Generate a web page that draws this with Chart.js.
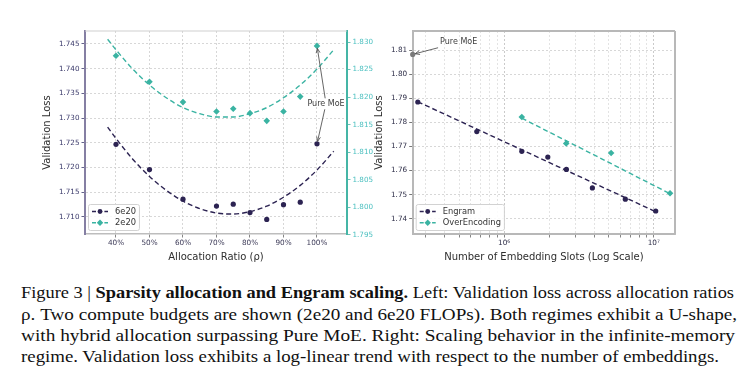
<!DOCTYPE html>
<html><head><meta charset="utf-8">
<script src="https://cdn.jsdelivr.net/npm/chart.js@4/dist/chart.umd.min.js"></script>
<style>
html,body{margin:0;padding:0;background:#fff;width:755px;height:379px;overflow:hidden;position:relative;}
canvas{position:absolute;top:0;}
#c1{left:0}
#c2{left:368px}
.cap{position:absolute;left:21px;white-space:nowrap;font-family:"Liberation Serif","DejaVu Serif",serif;font-size:17px;line-height:17px;color:#111;transform-origin:0 0;}
</style></head><body>
<canvas id="c1" width="376" height="275"></canvas>
<canvas id="c2" width="387" height="275"></canvas>
<div class="cap">Figure 3 | <b>Sparsity allocation and Engram scaling.</b> Left: Validation loss across allocation ratios</div>
<div class="cap">ρ. Two compute budgets are shown (2e20 and 6e20 FLOPs). Both regimes exhibit a U-shape,</div>
<div class="cap">with hybrid allocation surpassing Pure MoE. Right: Scaling behavior in the infinite-memory</div>
<div class="cap">regime. Validation loss exhibits a log-linear trend with respect to the number of embeddings.</div>
<script>
// ---------- data: left panel ----------
const ratioTicks = [40, 50, 60, 70, 80, 90, 100];
const ratios = [40, 50, 60, 70, 75, 80, 85, 90, 95, 100];
const loss6e20 = [1.7247, 1.7196, 1.7136, 1.7122, 1.7126, 1.7109, 1.7095, 1.7125, 1.7130, 1.7248];
const loss2e20 = [1.8275, 1.8228, 1.8191, 1.8174, 1.8179, 1.8171, 1.8157, 1.8174, 1.8201, 1.8293];
const fitRatios = [37.5, 40, 45, 50, 55, 60, 65, 70, 75, 80, 85, 90, 95, 100, 105];
const fit6e20 = [1.7282, 1.7259, 1.7217, 1.7182, 1.7154, 1.7132, 1.7117, 1.7108, 1.7106, 1.7111, 1.7122, 1.7140, 1.7164, 1.7195, 1.7233];
const fit2e20 = [1.8305, 1.8286, 1.8251, 1.8222, 1.8199, 1.8181, 1.8170, 1.8164, 1.8164, 1.8170, 1.8181, 1.8199, 1.8222, 1.8251, 1.8286];
const lossTicksLeft = [1.710, 1.715, 1.720, 1.725, 1.730, 1.735, 1.740, 1.745];
const lossTicksRight = [1.795, 1.800, 1.805, 1.810, 1.815, 1.820, 1.825, 1.830];

// ---------- data: right panel ----------
const engramSlots = [2.65e5, 6.57e5, 1.313e6, 1.959e6, 2.608e6, 3.89e6, 6.46e6, 1.031e7];
const engramLoss = [1.7885, 1.7762, 1.7680, 1.7656, 1.7605, 1.7528, 1.7481, 1.7432];
const overSlots = [1.313e6, 2.6e6, 5.19e6, 1.285e7];
const overLoss = [1.7823, 1.7713, 1.7673, 1.7506];
const engramFitSlots = [2.65e5, 1.031e7];
const engramFitLoss = [1.7886, 1.7429];
const overFitSlots = [1.313e6, 1.285e7];
const overFitLoss = [1.7818, 1.7504];
const pureMoESlots = [2.45e5];
const pureMoELoss = [1.8083];
const slotTicks = [3e5, 4e5, 5e5, 6e5, 7e5, 8e5, 9e5, 1e6, 2e6, 3e6, 4e6, 5e6, 6e6, 7e6, 8e6, 9e6, 1e7];
const slotMajor = [1e6, 1e7];
const slotLabels = {1000000: '10⁶', 10000000: '10⁷'};
const lossTicksR = [1.74, 1.75, 1.76, 1.77, 1.78, 1.79, 1.80, 1.81];

// ---------- styles ----------
const DARK = '#2c2352';
const TEAL = '#3ab3a2';
Chart.defaults.font.family = '"DejaVu Sans", sans-serif';
Chart.defaults.animation = false;

const pts = (xs, ys) => xs.map((x, i) => ({x, y: ys[i]}));

function drawMarker(ctx, style, x, y, r, color) {
  ctx.fillStyle = color; ctx.strokeStyle = color; ctx.lineWidth = 1;
  ctx.beginPath();
  if (style === 'rectRot') {
    ctx.moveTo(x - r, y); ctx.lineTo(x, y - r); ctx.lineTo(x + r, y); ctx.lineTo(x, y + r); ctx.closePath();
  } else {
    ctx.arc(x, y, r, 0, Math.PI * 2);
  }
  ctx.fill();
}

const legendPlugin = {
  id: 'mplLegend',
  afterDatasetsDraw(chart, args, opts) {
    if (!opts.entries) return;
    const {ctx, chartArea: a} = chart;
    ctx.save();
    ctx.font = '8.3px "DejaVu Sans"';
    const tw = Math.max(...opts.entries.map(e => ctx.measureText(e.label).width));
    const w = 27 + tw + 3, h = 26;
    const x0 = a.left + 3, y0 = a.bottom - 4 - h;
    ctx.fillStyle = 'rgba(255,255,255,0.85)';
    ctx.strokeStyle = '#d2d2d2'; ctx.lineWidth = 1;
    ctx.beginPath();
    ctx.roundRect(x0 + 0.5, y0 + 0.5, w, h, 2);
    ctx.fill(); ctx.stroke();
    opts.entries.forEach((e, i) => {
      const cy = y0 + 7.5 + i * 11.3;
      ctx.strokeStyle = e.color; ctx.lineWidth = 1.4; ctx.setLineDash([4, 2.2]);
      ctx.beginPath(); ctx.moveTo(x0 + 4, cy); ctx.lineTo(x0 + 20, cy); ctx.stroke();
      ctx.setLineDash([]);
      drawMarker(ctx, e.pointStyle, x0 + 12, cy, e.pointStyle === 'rectRot' ? 3.2 : 2.4, e.color);
      ctx.fillStyle = '#333'; ctx.textAlign = 'left'; ctx.textBaseline = 'middle';
      ctx.fillText(e.label, x0 + 27, cy + 0.5);
    });
    ctx.restore();
  }
};

const annotPlugin = {
  id: 'mplAnnot',
  afterDatasetsDraw(chart, args, opts) {
    if (!opts.items) return;
    const {ctx} = chart; const xs = chart.scales.x;
    ctx.save();
    opts.items.forEach(it => {
      const cx = xs.getPixelForValue(it.x), cy = chart.scales[it.yAxis].getPixelForValue(it.y);
      ctx.font = '8px "DejaVu Sans"'; ctx.fillStyle = '#3d3d3d';
      ctx.textAlign = 'center'; ctx.textBaseline = 'middle';
      ctx.fillText(it.text, cx, cy);
      const hw = ctx.measureText(it.text).width / 2 + 2, hh = 5.5;
      it.targets.forEach(t => {
        const tx = xs.getPixelForValue(t.x), ty = chart.scales[t.yAxis].getPixelForValue(t.y);
        const dx = tx - cx, dy = ty - cy;
        const s = Math.min(dx ? hw / Math.abs(dx) : Infinity, dy ? hh / Math.abs(dy) : Infinity);
        const sx = cx + dx * s, sy = cy + dy * s;
        const L = Math.hypot(tx - sx, ty - sy); const ux = (tx - sx) / L, uy = (ty - sy) / L;
        const ex = tx - ux * 2.5, ey = ty - uy * 2.5;
        ctx.strokeStyle = '#555'; ctx.lineWidth = 0.9;
        ctx.beginPath(); ctx.moveTo(sx, sy); ctx.lineTo(ex, ey); ctx.stroke();
        const ang = Math.atan2(uy, ux);
        ctx.beginPath();
        ctx.moveTo(ex - 5 * Math.cos(ang - 0.4), ey - 5 * Math.sin(ang - 0.4));
        ctx.lineTo(ex, ey);
        ctx.lineTo(ex - 5 * Math.cos(ang + 0.4), ey - 5 * Math.sin(ang + 0.4));
        ctx.stroke();
      });
    });
    ctx.restore();
  }
};

const framePlugin = {
  id: 'frame',
  afterDatasetsDraw(chart, args, opts) {
    const {ctx, chartArea: a} = chart;
    ctx.save();
    ctx.strokeStyle = opts.color || '#c8c8c8';
    ctx.lineWidth = opts.width || 1;
    ctx.beginPath(); ctx.moveTo(a.left, a.top); ctx.lineTo(a.right, a.top); ctx.stroke();
    if (opts.right) {
      ctx.beginPath(); ctx.moveTo(a.right, a.top); ctx.lineTo(a.right, a.bottom); ctx.stroke();
    }
    ctx.restore();
  }
};

const gridDot = {color: '#cdcdcd', lineWidth: 0.8, tickLength: 3.5, tickWidth: 0.8, tickBorderDash: []};

// ---------- left chart ----------
new Chart(document.getElementById('c1'), {
  type: 'scatter',
  data: {datasets: [
    {label: '6e20', data: pts(ratios, loss6e20), yAxisID: 'y', pointStyle: 'circle', pointRadius: 2.6,
     backgroundColor: DARK, borderColor: DARK, borderWidth: 0, showLine: false},
    {label: '2e20', data: pts(ratios, loss2e20), yAxisID: 'y2', pointStyle: 'rectRot', pointRadius: 3.3,
     backgroundColor: TEAL, borderColor: TEAL, borderWidth: 0, showLine: false},
    {label: 'fit6', data: pts(fitRatios, fit6e20), yAxisID: 'y', showLine: true, pointRadius: 0,
     borderColor: DARK, borderWidth: 1.4, borderDash: [5, 3], cubicInterpolationMode: 'monotone'},
    {label: 'fit2', data: pts(fitRatios, fit2e20), yAxisID: 'y2', showLine: true, pointRadius: 0,
     borderColor: TEAL, borderWidth: 1.4, borderDash: [5, 3], cubicInterpolationMode: 'monotone'}
  ]},
  options: {
    responsive: false, devicePixelRatio: 1,
    layout: {padding: {top: 31, left: 37, right: 0, bottom: 12}},
    plugins: {
      legend: {display: false}, tooltip: {enabled: false},
      mplLegend: {entries: [
        {label: '6e20', color: DARK, pointStyle: 'circle'},
        {label: '2e20', color: TEAL, pointStyle: 'rectRot'}]},
      mplAnnot: {items: [{text: 'Pure MoE', x: 102.7, y: 1.7329, yAxis: 'y',
        targets: [{x: ratios[9], y: loss2e20[9], yAxis: 'y2'}, {x: ratios[9], y: loss6e20[9], yAxis: 'y'}]}]},
      frame: {color: '#cfcfcf', width: 1}
    },
    scales: {
      x: {type: 'linear', min: 30.75, max: 108.96,
        afterBuildTicks: s => { s.ticks = ratioTicks.map(v => ({value: v})); },
        afterFit: s => { s.height = 29; },
        ticks: {callback: v => v + '%', color: '#3d3b58', font: {size: 7.3}, padding: 1.5, maxRotation: 0, autoSkip: false},
        grid: Object.assign({}, gridDot, {tickColor: '#666'}),
        border: {color: '#bdbdbd', width: 1.5, dash: [2, 2]},
        title: {display: true, text: 'Allocation Ratio (ρ)', font: {size: 10}, color: '#2e2e2e', padding: {top: 0, bottom: 0}}
      },
      y: {type: 'linear', position: 'left', min: 1.70656, max: 1.74763,
        afterBuildTicks: s => { s.ticks = lossTicksLeft.map(v => ({value: v})); },
        afterFit: s => { s.width = 48; },
        ticks: {callback: v => v.toFixed(3), color: '#3b3a6b', font: {size: 7.2}, padding: 2},
        grid: Object.assign({}, gridDot, {tickColor: '#3b3a6b'}),
        border: {color: '#857fa3', width: 2, dash: [2, 2]},
        title: {display: true, text: 'Validation Loss', font: {size: 10}, color: '#2e2e2e', padding: {top: 4, bottom: 4}}
      },
      y2: {type: 'linear', position: 'right', min: 1.79518, max: 1.832,
        afterBuildTicks: s => { s.ticks = lossTicksRight.map(v => ({value: v})); },
        afterFit: s => { s.width = 29; },
        ticks: {callback: v => v.toFixed(3), color: '#4cc0c0', font: {size: 7.2}, padding: 2},
        grid: Object.assign({}, gridDot, {drawOnChartArea: false, tickColor: '#45b5a6'}),
        border: {color: '#45b5a6', width: 2}
      }
    }
  },
  plugins: [framePlugin, legendPlugin, annotPlugin]
});

// ---------- right chart ----------
const majorSet = new Set(slotMajor);
new Chart(document.getElementById('c2'), {
  type: 'scatter',
  data: {datasets: [
    {label: 'Pure MoE', data: pts(pureMoESlots, pureMoELoss), pointStyle: 'circle', pointRadius: 2.6,
     backgroundColor: '#7a7a7a', borderColor: '#7a7a7a', borderWidth: 0, clip: false},
    {label: 'Engram', data: pts(engramSlots, engramLoss), pointStyle: 'circle', pointRadius: 2.6,
     backgroundColor: DARK, borderColor: DARK, borderWidth: 0},
    {label: 'OverEncoding', data: pts(overSlots, overLoss), pointStyle: 'rectRot', pointRadius: 3.3,
     backgroundColor: TEAL, borderColor: TEAL, borderWidth: 0},
    {label: 'fitE', data: pts(engramFitSlots, engramFitLoss), showLine: true, pointRadius: 0,
     borderColor: DARK, borderWidth: 1.4, borderDash: [5, 3]},
    {label: 'fitO', data: pts(overFitSlots, overFitLoss), showLine: true, pointRadius: 0,
     borderColor: TEAL, borderWidth: 1.4, borderDash: [5, 3]}
  ]},
  options: {
    responsive: false, devicePixelRatio: 1,
    layout: {padding: {top: 31, left: 1, right: 80, bottom: 12}},
    plugins: {
      legend: {display: false}, tooltip: {enabled: false},
      mplLegend: {entries: [
        {label: 'Engram', color: DARK, pointStyle: 'circle'},
        {label: 'OverEncoding', color: TEAL, pointStyle: 'rectRot'}]},
      mplAnnot: {items: [{text: 'Pure MoE', x: 4.97e5, y: 1.8133, yAxis: 'y',
        targets: [{x: pureMoESlots[0], y: pureMoELoss[0], yAxis: 'y'}]}]},
      frame: {color: '#b8b8b8', width: 2, right: true}
    },
    scales: {
      x: {type: 'logarithmic', min: 2.45e5, max: 1.387e7,
        afterBuildTicks: s => { s.ticks = slotTicks.map(v => ({value: v, major: majorSet.has(v)})); },
        afterFit: s => { s.height = 29; },
        ticks: {callback: v => slotLabels[v] || '', color: '#2e2e48', font: {size: 7.3}, padding: 1.5, maxRotation: 0, autoSkip: false},
        grid: Object.assign({}, gridDot, {
          color: c => (c.tick && majorSet.has(c.tick.value)) ? '#bdbdbd' : '#dcdcdc',
          tickColor: '#666'}),
        border: {color: '#b8b8b8', width: 2, dash: [2, 2]},
        title: {display: true, text: 'Number of Embedding Slots (Log Scale)', font: {size: 10}, color: '#2e2e2e', padding: {top: 0, bottom: 0}}
      },
      y: {type: 'linear', position: 'left', min: 1.73364, max: 1.81802,
        afterBuildTicks: s => { s.ticks = lossTicksR.map(v => ({value: v})); },
        afterFit: s => { s.width = 43.7; },
        ticks: {callback: v => v.toFixed(2), color: '#2e2e48', font: {size: 7.3}, padding: 2},
        grid: Object.assign({}, gridDot, {tickColor: '#555'}),
        border: {color: '#b8b8b8', width: 2, dash: [2, 2]},
        title: {display: true, text: 'Validation Loss', font: {size: 10}, color: '#2e2e2e', padding: {top: 4, bottom: 4}}
      }
    }
  },
  plugins: [framePlugin, legendPlugin, annotPlugin]
});

// ---------- caption line fitting ----------
const capLayout = [[298.3, 713], [319.7, 716], [341, 714], [362.3, 698]];
document.querySelectorAll('.cap').forEach((el, i) => {
  const [base, w] = capLayout[i];
  el.style.top = (base - 14.2) + 'px';
  const nat = el.getBoundingClientRect().width;
  el.style.transform = 'scaleX(' + (w / nat) + ')';
});
</script>
</body></html>
